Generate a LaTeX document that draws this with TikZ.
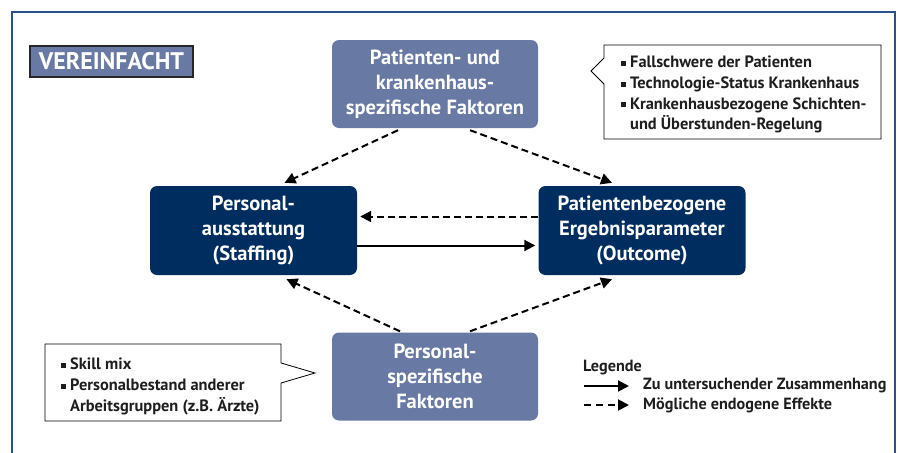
\documentclass[tikz,border=0pt]{standalone}
\usepackage{fontspec}
\setmainfont{PT Sans}
\usetikzlibrary{arrows.meta,calc,positioning}

\definecolor{frameblue}{RGB}{45,79,140}
\definecolor{lightnode}{RGB}{104,121,164}
\definecolor{darknode}{RGB}{0,45,95}
\definecolor{notegray}{RGB}{30,30,30}

\tikzset{
  lightbox/.style={fill=lightnode, rounded corners=7pt, minimum width=206pt, minimum height=88pt,
    text=white, align=center, font=\fontsize{20.5}{25}\selectfont\bfseries},
  darkbox/.style={fill=darknode, rounded corners=7pt, minimum width=207pt, minimum height=89pt,
    text=white, align=center, font=\fontsize{20.5}{25}\selectfont\bfseries},
  dasharrow/.style={-{Triangle[length=11pt,width=11pt]}, line width=2pt, dash pattern=on 7pt off 4pt},
  fullarrow/.style={-{Triangle[length=11pt,width=11pt]}, line width=2pt},
  notetext/.style={align=left, font=\fontsize{16.4}{20.7}\selectfont\bfseries, text=notegray,
    inner sep=0pt, anchor=north west},
  legtext/.style={font=\fontsize{16.2}{18}\selectfont\bfseries, text=notegray, inner sep=0pt, anchor=west}
}
\newcommand{\blt}{\rule[2pt]{5pt}{5pt}\hspace{4pt}}

\begin{document}
\begin{tikzpicture}[x=1pt,y=-1pt]

	\useasboundingbox (0,0) rectangle (898,453);

	%outer frame
	\draw [frameblue, line width=2pt] (11.5,453) -- (11.5,12) -- (895,12) -- (895,453);

	%label top left
	\node [fill=lightnode, draw=black!85, line width=1.2pt, minimum width=163pt, minimum height=31pt,
		inner sep=0pt, text=white, font=\fontsize{24}{26}\selectfont\bfseries] (simple) at (111.5,61.5) {VEREINFACHT};

	%four boxes
	\node [lightbox] (factors) at (435,84) {Patienten- und\\krankenhaus-\\spezifische Faktoren};
	\node [darkbox] (staffing) at (253.5,230.5) {Personal-\\ausstattung\\(Staffing)};
	\node [darkbox] (outcome) at (642,230.5) {Patientenbezogene\\Ergebnisparameter\\(Outcome)};
	\node [lightbox] (personal) at (435,376.5) {Personal-\\spezifische\\Faktoren};

	%arrows between boxes
	\draw [dasharrow] ($(factors.south)+(-37,2)$) -- ($(staffing.north)+(31,-3)$);
	\draw [dasharrow] ($(factors.south)+(35,2)$) -- ($(outcome.north)+(-30,-3)$);
	\draw [dasharrow] ($(outcome.west)+(0,-14)$) -- ($(staffing.east)+(3,-14)$);
	\draw [fullarrow] ($(staffing.east)+(0,15)$) -- ($(outcome.west)+(-3,15)$);
	\draw [dasharrow] ($(personal.north)+(-35,-1)$) -- ($(staffing.south)+(33,4)$);
	\draw [dasharrow] ($(personal.north)+(35,-1)$) -- ($(outcome.south)+(-30,4)$);

	%callout top right
	\draw [fill=white, line width=0.8pt] (604,45) -- (881,45) -- (881,139) -- (604,139) -- (604,84) -- (591,71) -- (604,58) -- cycle;
	\node [notetext] (factlist) at (621,56) {\blt Fallschwere der Patienten\\\blt Technologie-Status Krankenhaus\\\blt Krankenhausbezogene Schichten-\\\hspace{9pt}und Überstunden-Regelung};

	%callout bottom left
	\draw [fill=white, line width=0.8pt] (45,344) -- (281,344) -- (281,363) -- (315,373) -- (281,383) -- (281,421) -- (45,421) -- cycle;
	\node [notetext] (stafflist) at (61,358) {\blt Skill mix\\\blt Personalbestand anderer\\\hspace{9pt}Arbeitsgruppen (z.B. Ärzte)};

	%legend
	\node [legtext] (legend) at (583,368) {Legende};
	\node [legtext] (legsolid) at (643,386) {Zu untersuchender Zusammenhang};
	\node [legtext] (legdash) at (643,405) {Mögliche endogene Effekte};
	\coordinate (solidstart) at (584,386);
	\coordinate (dashstart) at (584,405);
	\draw [fullarrow] (solidstart) -- ($(legsolid.west)+(-14,0)$);
	\draw [dasharrow, dash pattern=on 7pt off 5pt] (dashstart) -- ($(legdash.west)+(-14,0)$);

\end{tikzpicture}
\end{document}
